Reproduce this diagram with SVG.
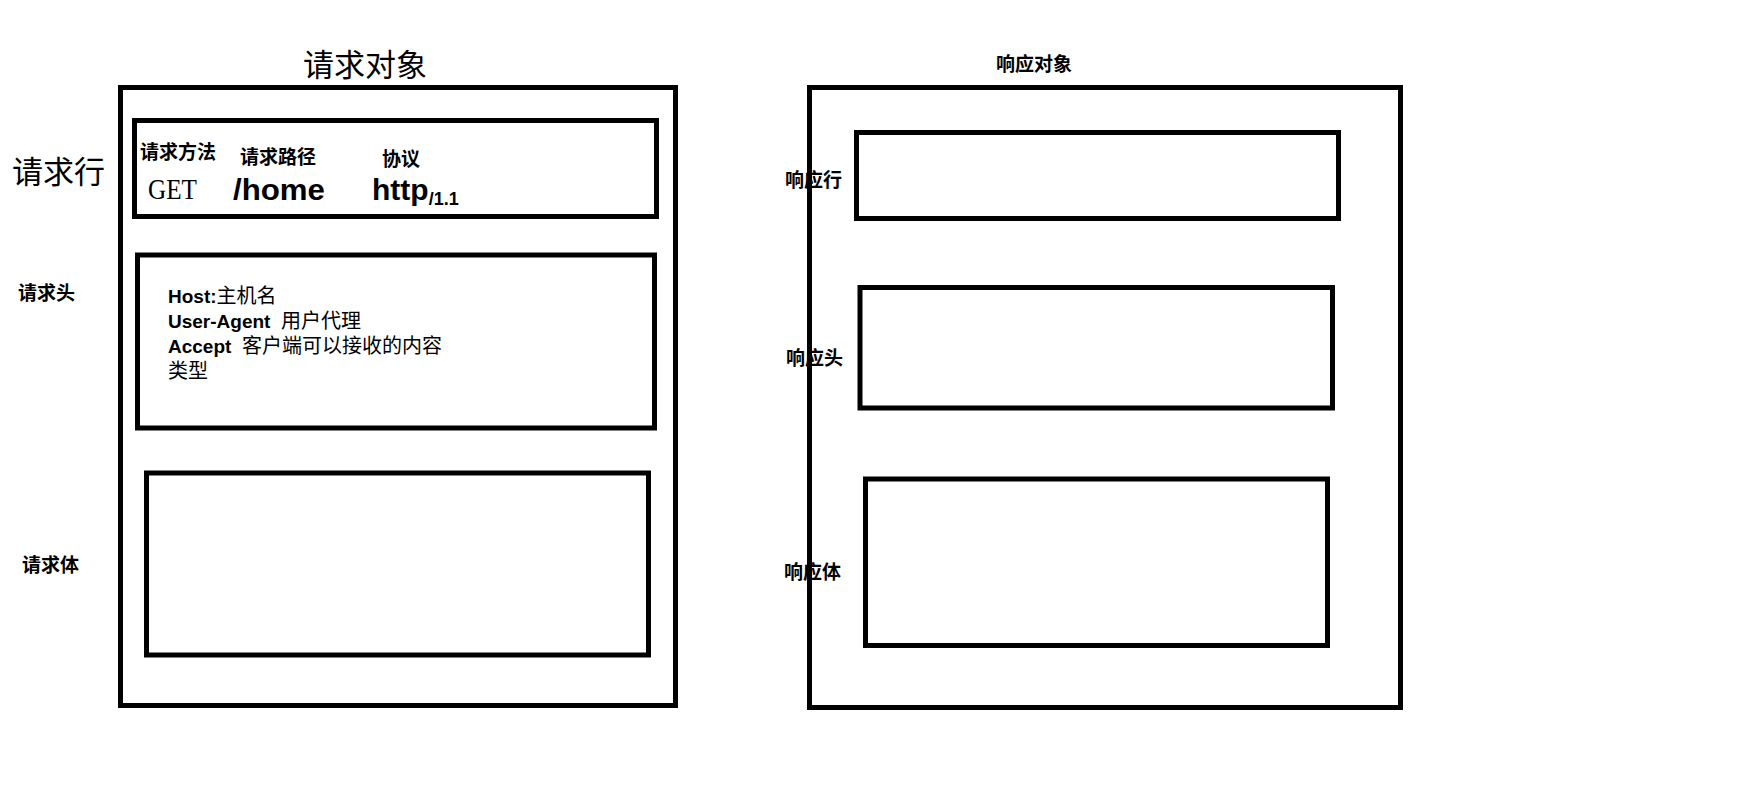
<svg xmlns="http://www.w3.org/2000/svg" width="1745" height="802" viewBox="0 0 1745 802">
<style>
.box{fill:none;stroke:#000;stroke-width:5}
.cjk{font-family:"Noto Sans CJK SC","Noto Sans",sans-serif;fill:#000}
.lbl{font-size:19px;font-weight:bold}
.big{font-size:31px}
.lat{font-family:"Liberation Sans",Arial,sans-serif;font-weight:bold;fill:#000}
.hdr{font-size:19px}
.hc{font-family:"Noto Sans CJK SC","Noto Sans",sans-serif;font-weight:normal;font-size:20px}
</style>
<rect width="1745" height="802" fill="#fff"/>
<g id="request">
  <text class="cjk big" x="303" y="76">请求对象</text>
  <rect class="box" x="120.5" y="87.5" width="555" height="618"/>
</g>
<g id="request-line">
  <text class="cjk big" x="12" y="183">请求行</text>
  <rect class="box" x="134.5" y="120.5" width="522" height="96"/>
  <text class="cjk lbl" x="140" y="159">请求方法</text>
  <text class="cjk lbl" x="240" y="164">请求路径</text>
  <text class="cjk lbl" x="382" y="166">协议</text>
  <text x="148" y="199" font-family="'Liberation Serif','Times New Roman',serif" font-size="30" textLength="49" lengthAdjust="spacingAndGlyphs" fill="#000">GET</text>
  <text class="lat" x="233" y="200" font-size="30" textLength="92" lengthAdjust="spacingAndGlyphs">/home</text>
  <text class="lat" x="372" y="200" font-size="30">http<tspan font-size="18" dy="5">/1.1</tspan></text>
</g>
<g id="request-header">
  <text class="cjk lbl" x="18" y="300">请求头</text>
  <rect class="box" x="137.5" y="255" width="517" height="173"/>
  <text class="lat hdr" x="168" y="303">Host:<tspan class="hc">主机名</tspan></text>
  <text class="lat hdr" x="168" y="328" xml:space="preserve">User-Agent  <tspan class="hc">用户代理</tspan></text>
  <text class="lat hdr" x="168" y="353" xml:space="preserve">Accept  <tspan class="hc">客户端可以接收的内容</tspan></text>
  <text class="cjk" x="168" y="378" font-size="20">类型</text>
</g>
<g id="request-body">
  <text class="cjk lbl" x="22" y="572">请求体</text>
  <rect class="box" x="146.5" y="473" width="502" height="182"/>
</g>
<g id="response">
  <text class="cjk lbl" x="996" y="71">响应对象</text>
  <rect class="box" x="809.5" y="87.5" width="591" height="620"/>
</g>
<g id="response-line">
  <rect class="box" x="856.5" y="132.5" width="482" height="86"/>
  <text class="cjk lbl" x="785" y="187">响应行</text>
</g>
<g id="response-header">
  <rect class="box" x="860" y="287.5" width="472.5" height="120.5"/>
  <text class="cjk lbl" x="786" y="365">响应头</text>
</g>
<g id="response-body">
  <rect class="box" x="865.5" y="479" width="462" height="166.5"/>
  <text class="cjk lbl" x="784" y="579">响应体</text>
</g>
<g id="connectors"></g>
</svg>
